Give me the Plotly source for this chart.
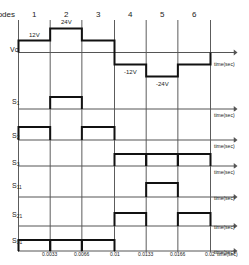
import plotly.graph_objects as go

# ---------------- data ----------------
mode_names = ["1", "2", "3", "4", "5", "6"]
mode_bounds = [0, 0.0033, 0.0066, 0.01, 0.0133, 0.0166, 0.02]
tick_vals = [0.0033, 0.0066, 0.01, 0.0133, 0.0166, 0.02]
tick_text = ["0.0033", "0.0066", "0.01", "0.0133", "0.0166", "0.02"]
vc_levels = [12, 24, 12, -12, -24, -12]
vc_labels = ["12V", "24V", "", "-12V", "-24V", ""]
s1 = [0, 1, 0, 0, 0, 0]
s2 = [1, 0, 1, 0, 0, 0]
s3 = [0, 0, 0, 1, 1, 1]
s11 = [0, 0, 0, 0, 1, 0]
s21 = [0, 0, 0, 1, 0, 1]
s31 = [1, 1, 1, 0, 0, 0]
switch_names = ["S<sub>1</sub>", "S<sub>2</sub>", "S<sub>3</sub>",
                "S<sub>11</sub>", "S<sub>21</sub>", "S<sub>31</sub>"]
switch_states = [s1, s2, s3, s11, s21, s31]

# ---------------- layout constants ----------------
W, H = 249, 265
PX_PER_S = 9600.0
X0_PX = 18.5
x_range = [-X0_PX / PX_PER_S, (W - X0_PX) / PX_PER_S]
t_arrow = (235 - X0_PX) / PX_PER_S

def py(p):
    return 1 - p / H

vc_zero_px, vc_px_per_v = 52.5, 1.0
switch_rows = [(109, 97), (140, 127), (166, 154), (197, 183), (226, 213), (251, 240)]
label_y_px = [102, 136, 163, 192, 221, 247]

fig = go.Figure()
BLACK = "#111111"
AX = "#555555"
GRID = "#5c5c5c"
FONT = "Liberation Sans"

layout_axes = {}
# y (first subplot, drawn underneath): full-height axis for the vertical mode separators
layout_axes["yaxis"] = dict(domain=[py(252), py(20)], range=[0, 1], visible=False, anchor="x")
vc_range = [-30, 30]
top = vc_zero_px - vc_range[1] * vc_px_per_v
bot = vc_zero_px - vc_range[0] * vc_px_per_v
layout_axes["yaxis2"] = dict(domain=[py(bot), py(top)], range=vc_range, visible=False, anchor="x")
for i, (b, h) in enumerate(switch_rows):
    span = b - h
    top = h - 0.2 * span
    bot = b + 0.2 * span
    layout_axes["yaxis%d" % (i + 3)] = dict(domain=[py(bot), py(top)], range=[-0.2, 1.2],
                                           visible=False, anchor="x")

# vertical mode separators
gx, gy = [], []
for t in mode_bounds:
    gx += [t, t, None]
    gy += [0, 1, None]
fig.add_trace(go.Scatter(x=gx, y=gy, mode="lines", xaxis="x", yaxis="y",
                         line=dict(color=GRID, width=1), hoverinfo="skip"))

annotations = []
vc_ref = "y2"
sw_refs = ["y%d" % (i + 3) for i in range(len(switch_rows))]
row_refs = [vc_ref] + sw_refs
baselines_px = [vc_zero_px] + [b for b, h in switch_rows]
for yr, bpx in zip(row_refs, baselines_px):
    fig.add_trace(go.Scatter(x=[0, t_arrow], y=[0, 0], mode="lines", xaxis="x", yaxis=yr,
                             line=dict(color=AX, width=1), hoverinfo="skip"))
    fig.add_trace(go.Scatter(x=[t_arrow], y=[0], mode="markers", xaxis="x", yaxis=yr,
                             marker=dict(symbol="triangle-right", size=5, color=AX),
                             hoverinfo="skip"))
    annotations.append(dict(x=237 / W, y=py(bpx + 6), xref="paper", yref="paper",
                            text="time(sec)", showarrow=False,
                            font=dict(size=5, color="#222", family=FONT)))

# Vc waveform
vx, vy = [0], [0]
for k, lv in enumerate(vc_levels):
    vx += [mode_bounds[k], mode_bounds[k + 1]]
    vy += [lv, lv]
vx.append(mode_bounds[-1]); vy.append(0)
fig.add_trace(go.Scatter(x=vx, y=vy, mode="lines", line=dict(color=BLACK, width=2),
                         xaxis="x", yaxis=vc_ref, hoverinfo="skip"))
for k, txt in enumerate(vc_labels):
    if not txt:
        continue
    lv = vc_levels[k]
    mid = (mode_bounds[k] + mode_bounds[k + 1]) / 2
    annotations.append(dict(x=mid, y=lv, xref="x", yref=vc_ref, text=txt, showarrow=False,
                            yshift=6 if lv > 0 else -7,
                            font=dict(size=6, color="#222", family=FONT)))

# switch waveforms
for i, st in enumerate(switch_states):
    xs, ys = [], []
    for k, s in enumerate(st):
        if s:
            a, b = mode_bounds[k], mode_bounds[k + 1]
            xs += [a, a, b, b, None]
            ys += [0, 1, 1, 0, None]
    fig.add_trace(go.Scatter(x=xs, y=ys, mode="lines", line=dict(color=BLACK, width=2),
                             xaxis="x", yaxis=sw_refs[i], hoverinfo="skip", connectgaps=False))

annotations.append(dict(x=8 / W, y=py(44), xref="paper", yref="paper", text="Vc",
                        showarrow=False, font=dict(size=7, color="#222", family=FONT)))
for name, ly in zip(switch_names, label_y_px):
    annotations.append(dict(x=10 / W, y=py(ly), xref="paper", yref="paper", text=name,
                            showarrow=False, font=dict(size=7, color="#222", family=FONT)))

annotations.append(dict(x=17 / W, y=py(8), xref="paper", yref="paper", text="Modes",
                        xanchor="right", showarrow=False,
                        font=dict(size=8, color="#222", family=FONT)))
for k, m in enumerate(mode_names):
    mid = (mode_bounds[k] + mode_bounds[k + 1]) / 2
    annotations.append(dict(x=mid, y=py(8), xref="x", yref="paper", text=m, showarrow=False,
                            font=dict(size=8, color="#222", family=FONT)))

for t, tt in zip(tick_vals, tick_text):
    annotations.append(dict(x=t, y=py(259), xref="x", yref="paper", text=tt, showarrow=False,
                            xshift=-1 if tt == "0.02" else 0,
                            font=dict(size=5, color="#222", family=FONT)))
annotations.append(dict(x=240 / W, y=py(259), xref="paper", yref="paper", text="time(sec)",
                        showarrow=False, font=dict(size=5, color="#222", family=FONT)))

fig.update_layout(
    width=W, height=H, margin=dict(l=0, r=0, t=0, b=0),
    paper_bgcolor="white", plot_bgcolor="rgba(0,0,0,0)", showlegend=False,
    xaxis=dict(range=x_range, visible=False, domain=[0, 1], anchor="y"),
    annotations=annotations,
    **layout_axes,
)

fig.write_html("out.html")
